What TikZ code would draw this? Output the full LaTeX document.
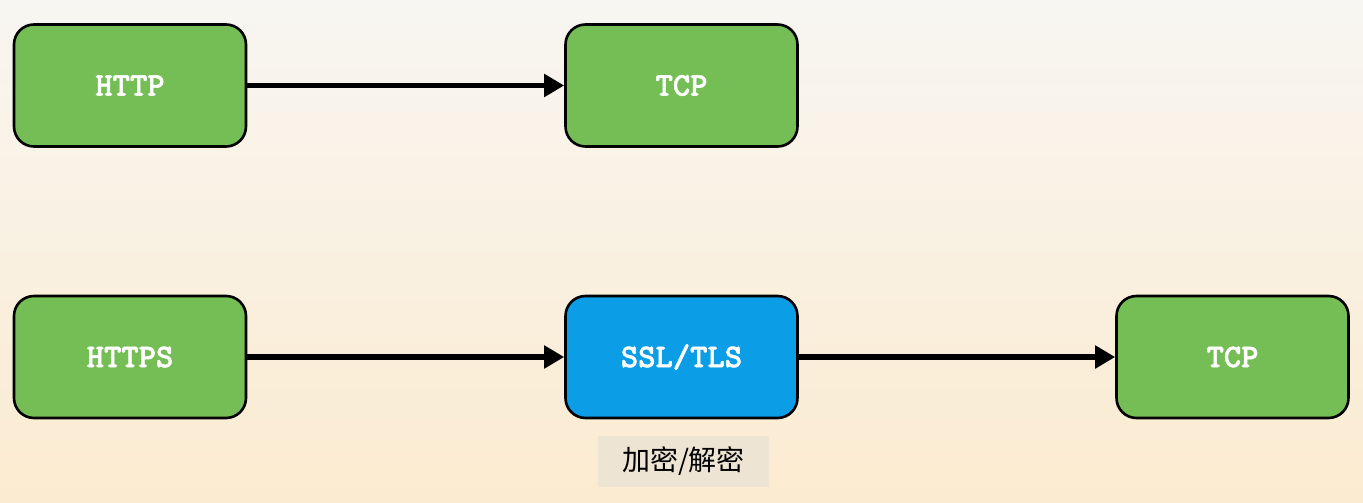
\documentclass[tikz,border=0pt]{standalone}
\usepackage{fontspec}
\newfontfamily\cjk{Noto Sans CJK SC}
\newfontfamily\boxfont[FakeBold=1.6]{lmmonolt10-bold.otf}
\usetikzlibrary{arrows.meta}
\definecolor{boxgreen}{HTML}{75BE56}
\definecolor{boxblue}{HTML}{0B9DE6}
\definecolor{bgtop}{HTML}{F8F6F2}
\definecolor{bgbot}{HTML}{FBEBD0}
\definecolor{labelbg}{HTML}{EDE4D3}
\begin{document}
\begin{tikzpicture}[x=1pt,y=-1pt,
  layerbox/.style={draw=black, line width=2.6pt, rounded corners=20pt,
    minimum width=232pt, minimum height=122pt, inner sep=0pt,
    text=white, font=\boxfont\fontsize{33}{33}\selectfont},
  greenbox/.style={layerbox, fill=boxgreen},
  bluebox/.style={layerbox, fill=boxblue},
  conn/.style={line width=5.5pt, -{Triangle[length=20pt,width=22pt]}},
  note/.style={fill=labelbg, minimum width=171pt, minimum height=51pt, inner sep=0pt,
    font=\cjk\fontsize{28}{28}\selectfont}
]
\useasboundingbox (0,0) rectangle (1363,503);
\shade[top color=bgtop, bottom color=bgbot] (0,0) rectangle (1363,503);

\node[greenbox] (http) at (130,85.5) {HTTP};
\node[greenbox] (tcp1) at (681.5,85.5) {TCP};
\node[greenbox] (https) at (130,357) {HTTPS};
\node[bluebox] (ssl) at (681.5,357) {SSL/TLS};
\node[greenbox] (tcp2) at (1232.5,357) {TCP};
\node[note] (lbl) at (683.5,461.5) {加密/解密};

\draw[conn] (http.east) -- (tcp1.west);
\draw[conn] (https.east) -- (ssl.west);
\draw[conn] (ssl.east) -- (tcp2.west);
\end{tikzpicture}
\end{document}
